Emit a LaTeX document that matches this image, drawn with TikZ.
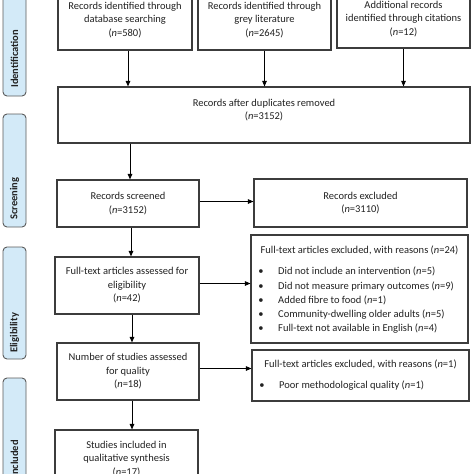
\documentclass[tikz,border=0pt]{standalone}
\usepackage{fontspec}
\setmainfont{Carlito}
\usetikzlibrary{arrows.meta}
\definecolor{boxline}{HTML}{3C3C3C}
\definecolor{barfill}{HTML}{D3EAF8}
\definecolor{barline}{HTML}{5A5A5A}
\definecolor{ink}{HTML}{222222}
\begin{document}
\begin{tikzpicture}[x=1pt,y=-1pt,
  box/.style={draw=boxline, line width=1.1pt, fill=white, inner sep=0pt, align=center,
    text=ink, font=\fontsize{10.5}{13.5}\selectfont},
  bar/.style={draw=barline, line width=0.9pt, fill=barfill, rounded corners=4pt,
    inner sep=0pt, minimum width=23pt},
  barlabel/.style={rotate=90, inner sep=0pt, text=ink, font=\bfseries\fontsize{10.5}{12}\selectfont},
  arr/.style={-{Triangle[length=5.5pt,width=4.5pt]}, line width=0.9pt, draw=black},
  txt/.style={inner sep=0pt, text=ink, align=center, font=\fontsize{10.5}{13.5}\selectfont},
  dot/.style={inner sep=0pt, text=ink, font=\fontsize{10.5}{13.5}\selectfont}
]
\useasboundingbox (0,0) rectangle (474,474);
\clip (0,0) rectangle (474,474);

% side bars
\node[bar, minimum height=126pt] (barI) at (14.5,33) {};
\node[barlabel, anchor=west] (labI) at (14.5,88) {Identification};
\node[bar, minimum height=113pt] (barS) at (14.5,170.5) {};
\node[barlabel, anchor=west] (labS) at (14.5,220) {Screening};
\node[bar, minimum height=112pt] (barE) at (14.5,303) {};
\node[barlabel, anchor=west] (labE) at (14.5,353) {Eligibility};
\node[bar, minimum height=124pt] (barC) at (14.5,440) {};
\node[barlabel, anchor=east] (labC) at (14.5,440) {Included};

% identification boxes
\node[box, minimum width=134pt, minimum height=60pt] (A) at (125,20)
  {Records identified through\\database searching\\(\textit{n}=580)};
\node[box, minimum width=133pt, minimum height=60pt] (B) at (264.5,20)
  {Records identified through\\grey literature\\(\textit{n}=2645)};
\node[box, minimum width=133pt, minimum height=58pt] (C) at (403.5,19)
  {Additional records\\identified through citations\\(\textit{n}=12)};

\node[box, minimum width=412pt, minimum height=56pt] (D) at (264,115) {};
\node[txt] (Dt) at (264,110) {Records after duplicates removed\\(\textit{n}=3152)};

% screening
\node[box, minimum width=142pt, minimum height=47pt] (E) at (128,203.5)
  {Records screened\\(\textit{n}=3152)};
\node[box, minimum width=213pt, minimum height=48pt] (F) at (360.5,203)
  {Records excluded\\(\textit{n}=3110)};

% eligibility
\node[box, minimum width=144pt, minimum height=57pt] (G) at (127,285.5)
  {Full-text articles assessed for\\eligibility\\(\textit{n}=42)};
\node[box, minimum width=217pt, minimum height=108pt] (H) at (359.5,289) {};
\node[txt] (Ht) at (359.5,250) {Full-text articles excluded, with reasons (\textit{n}=24)};
\node[dot] (Hb1) at (261,272) {•};
\node[dot] (Hb2) at (261,287) {•};
\node[dot] (Hb3) at (261,301) {•};
\node[dot] (Hb4) at (261,315) {•};
\node[dot] (Hb5) at (261,329) {•};
\node[txt, anchor=mid west] (Hi1) at (278,272) {Did not include an intervention (\textit{n}=5)};
\node[txt, anchor=mid west] (Hi2) at (278,287) {Did not measure primary outcomes (\textit{n}=9)};
\node[txt, anchor=mid west] (Hi3) at (278,301) {Added fibre to food (\textit{n}=1)};
\node[txt, anchor=mid west] (Hi4) at (278,315) {Community-dwelling older adults (\textit{n}=5)};
\node[txt, anchor=mid west] (Hi5) at (278,329) {Full-text not available in English (\textit{n}=4)};

\node[box, minimum width=142pt, minimum height=57pt] (I) at (128,371.5)
  {Number of studies assessed\\for quality\\(\textit{n}=18)};
\node[box, minimum width=217pt, minimum height=51pt] (J) at (360.5,375.5) {};
\node[txt] (Jt) at (360.5,364) {Full-text articles excluded, with reasons (\textit{n}=1)};
\node[dot] (Jb1) at (262,386) {•};
\node[txt, anchor=mid west] (Ji1) at (279,386) {Poor methodological quality (\textit{n}=1)};

% included
\node[box, minimum width=143pt, minimum height=58pt] (K) at (126.5,459)
  {Studies included in\\qualitative synthesis\\(\textit{n}=17)};

% connectors
\draw[arr] ([xshift=3pt]A.south) -- ([xshift=3pt]A.south |- D.north);
\draw[arr] (B.south) -- (B.south |- D.north);
\draw[arr] (C.south) -- (C.south |- D.north);
\draw[arr] ([xshift=2pt]D.south -| E.north) -- ([xshift=2pt]E.north);
\draw[arr] ([yshift=2pt]E.east) -- ([yshift=2pt]E.east -| F.west);
\draw[arr] ([xshift=3pt]E.south) -- ([xshift=3pt]E.south |- G.north);
\draw[arr] ([yshift=2pt]G.east) -- ([yshift=2pt]G.east -| H.west);
\draw[arr] ([xshift=4pt]I.north |- G.south) -- ([xshift=4pt]I.north);
\draw[arr] ([yshift=3pt]I.east) -- ([yshift=3pt]I.east -| J.west);
\draw[arr] ([xshift=4pt]I.south) -- ([xshift=4pt]I.south |- K.north);
\end{tikzpicture}
\end{document}
